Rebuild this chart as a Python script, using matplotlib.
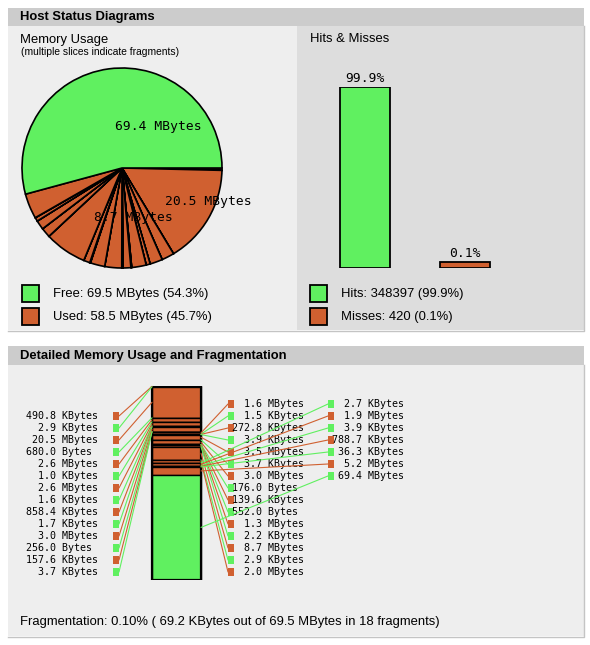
import matplotlib
matplotlib.use("Agg")
import matplotlib.pyplot as plt
from matplotlib.patches import Rectangle, ConnectionPatch
import numpy as np

GREEN = "#60f060"
RED = "#d06030"
SANS = "Liberation Sans"
MONO = "DejaVu Sans Mono"

# summary numbers
mem_labels = ["Free", "Used"]
mem_sizes = ["69.5 MBytes", "58.5 MBytes"]
mem_pct = [54.3, 45.7]

hit_labels = ["Hits", "Misses"]
hit_counts = [348397, 420]
hit_pct = [99.9, 0.1]

# memory blocks in shared memory order (used / free alternate)
block_vals = [490.8, 2.9, 20.5, 680.0, 2.6, 1.0, 2.6, 1.6, 858.4, 1.7, 3.0, 256.0, 157.6, 3.7,
              1.6, 1.5, 272.8, 3.9, 3.5, 3.7, 3.0, 176.0, 139.6, 552.0, 1.3, 2.2, 8.7, 2.9, 2.0,
              2.7, 1.9, 3.9, 788.7, 36.3, 5.2, 69.4]
block_units = ["KBytes", "KBytes", "MBytes", "Bytes", "MBytes", "KBytes", "MBytes", "KBytes",
               "KBytes", "KBytes", "MBytes", "Bytes", "KBytes", "KBytes",
               "MBytes", "KBytes", "KBytes", "KBytes", "MBytes", "KBytes", "MBytes", "Bytes",
               "KBytes", "Bytes", "MBytes", "KBytes", "MBytes", "KBytes", "MBytes",
               "KBytes", "MBytes", "KBytes", "KBytes", "KBytes", "MBytes", "MBytes"]
block_state = ["used", "free"] * 18
col_counts = [14, 15, 7]

frag_text = "Fragmentation: 0.10% ( 69.2 KBytes out of 69.5 MBytes in 18 fragments)"

unit_kb = {"Bytes": 1 / 1024, "KBytes": 1.0, "MBytes": 1024.0}
sizes_kb = np.array([v * unit_kb[u] for v, u in zip(block_vals, block_units)])
colors = [GREEN if s == "free" else RED for s in block_state]
total_kb = sizes_kb.sum()

W, H = 590, 645
fig = plt.figure(figsize=(W / 100, H / 100), dpi=100)
fig.patch.set_facecolor("white")


def box(x0, y0, x1, y1):
    # pixel box (top-left origin) -> figure fraction rect
    return [x0 / W, 1 - y1 / H, (x1 - x0) / W, (y1 - y0) / H]


ax = fig.add_axes([0, 0, 1, 1])
ax.set_xlim(0, W)
ax.set_ylim(H, 0)
ax.axis("off")

# page panels
ax.add_patch(Rectangle((8, 8), 576, 18, color="#cccccc", lw=0))
ax.add_patch(Rectangle((8, 26), 289, 304, color="#eeeeee", lw=0))
ax.add_patch(Rectangle((297, 26), 287, 304, color="#dddddd", lw=0))
ax.plot([583.5, 583.5, 8], [26, 330.5, 330.5], color="#c4c4c4", lw=1)
ax.add_patch(Rectangle((8, 346), 576, 19, color="#cccccc", lw=0))
ax.add_patch(Rectangle((8, 365), 576, 271, color="#eeeeee", lw=0))
ax.plot([583.5, 583.5, 8], [365, 636.5, 636.5], color="#c4c4c4", lw=1)

ax.text(20, 17, "Host Status Diagrams", fontsize=9.4, fontweight="bold", family=SANS, va="center")
ax.text(20, 40, "Memory Usage", fontsize=9.4, family=SANS, va="center")
ax.text(21, 52, "(multiple slices indicate fragments)", fontsize=7.4, family=SANS, va="center")
ax.text(310, 39, "Hits & Misses", fontsize=9.4, family=SANS, va="center")
ax.text(20, 356, "Detailed Memory Usage and Fragmentation", fontsize=9.4, fontweight="bold",
        family=SANS, va="center")
ax.text(20, 622, frag_text, fontsize=9.4, family=SANS, va="center")

# legends
for i, c in enumerate([GREEN, RED]):
    y = 285 + i * 23
    ax.add_patch(Rectangle((22, y), 17, 17, facecolor=c, edgecolor="black", lw=1.3))
    ax.text(53, y + 9, f"{mem_labels[i]}: {mem_sizes[i]} ({mem_pct[i]}%)",
            fontsize=9.4, family=SANS, va="center")
    ax.add_patch(Rectangle((310, y), 17, 17, facecolor=c, edgecolor="black", lw=1.3))
    ax.text(341, y + 9, f"{hit_labels[i]}: {hit_counts[i]} ({hit_pct[i]}%)",
            fontsize=9.4, family=SANS, va="center")

# memory pie, clockwise from east in block order
pa = fig.add_axes(box(20, 66, 224, 270))
wedges, _ = pa.pie(sizes_kb, colors=colors, startangle=0, counterclock=False,
                   wedgeprops=dict(edgecolor="black", linewidth=1.2))
pa.set_xlim(-1.02, 1.02)
pa.set_ylim(-1.02, 1.02)
pa.set_aspect("equal")
pa.axis("off")
for w, v, u, s in zip(wedges, block_vals, block_units, sizes_kb):
    if s / total_kb > 0.05:
        mid = np.deg2rad((w.theta1 + w.theta2) / 2)
        pa.text(0.5 * np.cos(mid), 0.5 * np.sin(mid) - 0.02, f"{v:.1f} {u}", family=MONO,
                fontsize=9.4, ha="left", va="top")

# hits & misses bars
axh = fig.add_axes(box(298, 87, 583, 268))
axh.set_xlim(298, 583)
axh.set_ylim(0, 100)
axh.axis("off")
bar_h = [max(p, 3.3) for p in hit_pct]
axh.bar([365, 465], bar_h, width=50, color=[GREEN, RED], edgecolor="black", lw=1.3)
for x, h, p in zip([365, 465], bar_h, hit_pct):
    axh.annotate(f"{p}%", (x, h), xytext=(0, 1.5), textcoords="offset points",
                 ha="center", va="bottom", family=MONO, fontsize=9.4)

# detailed fragmentation bar
axd = fig.add_axes(box(0, 386, W, 580))
axd.set_xlim(0, W)
axd.set_ylim(total_kb, 0)
axd.axis("off")
starts = np.concatenate([[0], np.cumsum(sizes_kb)[:-1]])
axd.bar(176.5, sizes_kb, bottom=starts, width=49, color=colors, edgecolor="black", lw=1.0)
axd.add_patch(Rectangle((152, 0), 49, total_kb, fill=False, edgecolor="black", lw=1.6))

columns = [  # square x, text x, first row y, line end on bar
    (116, 26, 416, 152, "left"),
    (231, 232, 404, 201, "right"),
    (331, 332, 404, 201, "right"),
]
idx = 0
for (sq_x, tx, y0, edge, side), n in zip(columns, col_counts):
    for r in range(n):
        i = idx + r
        y = y0 + r * 12
        ax.add_patch(Rectangle((sq_x - 3, y - 4), 6, 8, color=colors[i], lw=0, zorder=3))
        ax.text(tx, y, f"{block_vals[i]:5.1f} {block_units[i]}", family=MONO, fontsize=7.2,
                va="center", ha="left", zorder=3)
        mid = starts[i] + sizes_kb[i] / 2
        end_x = sq_x + 3 if side == "left" else sq_x - 3
        con = ConnectionPatch(xyA=(end_x, y), coordsA=ax.transData, xyB=(edge, mid),
                              coordsB=axd.transData, color=colors[i], lw=0.8)
        fig.add_artist(con)
    idx += n

fig.savefig("out.png", dpi=100)
